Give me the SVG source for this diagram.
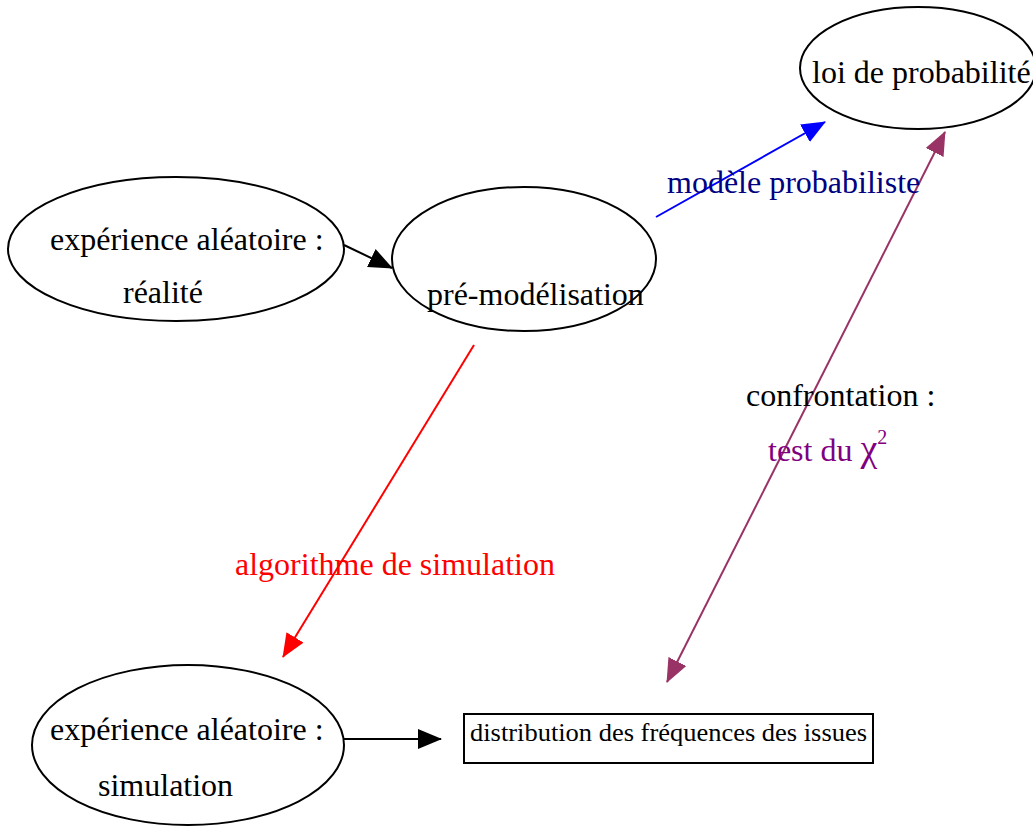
<svg xmlns="http://www.w3.org/2000/svg" width="1033" height="826" viewBox="0 0 1033 826">
<style>
  .node { fill: #ffffff; stroke: #000000; stroke-width: 2; }
  .t { font-family: "Liberation Serif", "Times New Roman", serif; font-size: 32px; fill: #000000; }
  .ts { font-family: "Liberation Serif", "Times New Roman", serif; font-size: 26px; fill: #000000; }
  .edge { fill: none; stroke-width: 2; }
</style>
<defs>
  <marker id="ahBlue" markerWidth="24" markerHeight="20" refX="23" refY="10" orient="auto" markerUnits="userSpaceOnUse" viewBox="0 0 24 20">
    <path d="M0,0 L24,10 L0,20 Z" fill="#0000ff"/>
  </marker>
  <marker id="ahRed" markerWidth="24" markerHeight="20" refX="23" refY="10" orient="auto" markerUnits="userSpaceOnUse" viewBox="0 0 24 20">
    <path d="M0,0 L24,10 L0,20 Z" fill="#ff0000"/>
  </marker>
  <marker id="ahPurpleEnd" markerWidth="24" markerHeight="20" refX="23" refY="10" orient="auto" markerUnits="userSpaceOnUse" viewBox="0 0 24 20">
    <path d="M0,0 L24,10 L0,20 Z" fill="#993366"/>
  </marker>
  <marker id="ahPurpleStart" markerWidth="24" markerHeight="20" refX="1" refY="10" orient="auto" markerUnits="userSpaceOnUse" viewBox="0 0 24 20">
    <path d="M24,0 L0,10 L24,20 Z" fill="#993366"/>
  </marker>
  <marker id="ahBlk" markerWidth="24" markerHeight="20" refX="23" refY="10" orient="auto" markerUnits="userSpaceOnUse" viewBox="0 0 24 20">
    <path d="M0,0 L24,10 L0,20 Z" fill="#000000"/>
  </marker>
</defs>
<rect x="0" y="0" width="1033" height="826" fill="#ffffff"/>

<g id="connectors">
  <line class="edge" x1="344" y1="245" x2="392" y2="268" stroke="#000000" marker-end="url(#ahBlk)"/>
  <line class="edge" x1="344" y1="739" x2="441" y2="739" stroke="#000000" marker-end="url(#ahBlk)"/>
  <line class="edge" x1="656" y1="217" x2="825" y2="122" stroke="#0000ff" marker-end="url(#ahBlue)"/>
  <line class="edge" x1="474" y1="345" x2="283" y2="657" stroke="#ff0000" marker-end="url(#ahRed)"/>
  <line class="edge" x1="667" y1="682" x2="945" y2="132" stroke="#993366" marker-start="url(#ahPurpleStart)" marker-end="url(#ahPurpleEnd)"/>
</g>

<g id="node-realite">
  <ellipse class="node" cx="176" cy="249" rx="168" ry="72"/>
  <text class="t" x="50" y="250">expérience aléatoire :</text>
  <text class="t" x="123" y="303">réalité</text>
</g>

<g id="node-premodelisation">
  <ellipse class="node" cx="524" cy="259" rx="132" ry="72"/>
  <text class="t" x="427" y="305">pré-modélisation</text>
</g>

<g id="node-loi">
  <ellipse class="node" cx="918" cy="68" rx="118" ry="61"/>
  <text class="t" x="812" y="83">loi de probabilité</text>
</g>

<g id="node-simulation">
  <ellipse class="node" cx="188" cy="745" rx="156" ry="80"/>
  <text class="t" x="50" y="740">expérience aléatoire :</text>
  <text class="t" x="98" y="796">simulation</text>
</g>

<g id="node-distribution">
  <rect class="node" x="464" y="714" width="409" height="49"/>
  <text class="ts" x="668.5" y="741" text-anchor="middle" textLength="397" lengthAdjust="spacingAndGlyphs">distribution des fréquences des issues</text>
</g>

<g id="labels">
  <text class="t" x="667" y="193" style="fill:#000080">modèle probabiliste</text>
  <text class="t" x="235" y="575" style="fill:#ff0000">algorithme de simulation</text>
  <text class="t" x="746" y="406">confrontation :</text>
  <text class="t" x="768" y="461" style="fill:#800080">test du <tspan font-size="38">χ</tspan><tspan font-size="20" dy="-17">2</tspan></text>
</g>
</svg>
